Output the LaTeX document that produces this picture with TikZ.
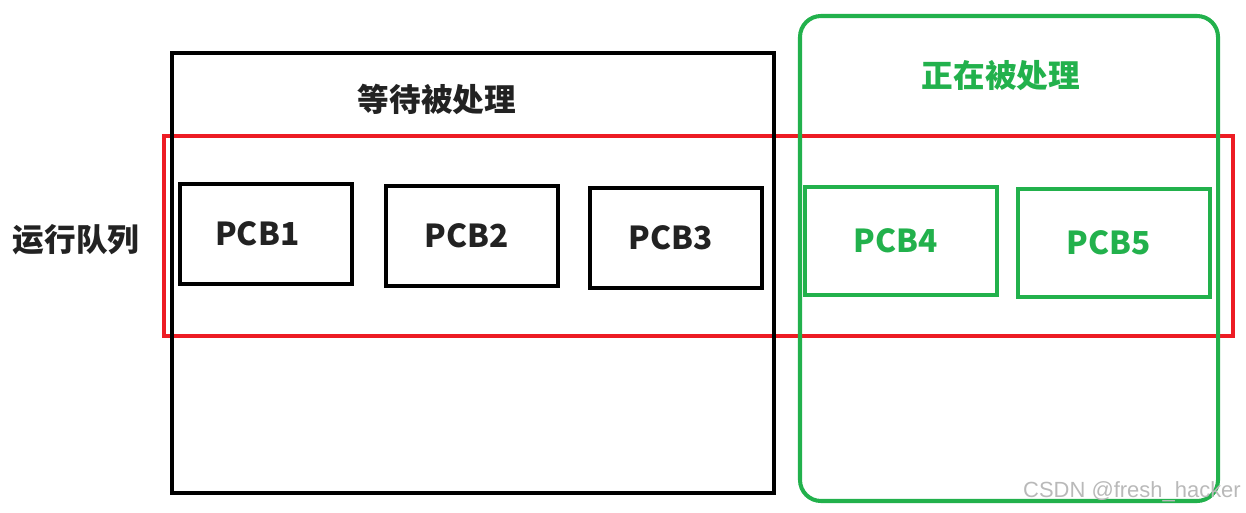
\documentclass[tikz,border=0pt]{standalone}
\usepackage{fontspec}
\newfontfamily\cjk{Noto Sans CJK SC}
\newfontfamily\wmfont{Liberation Sans}
\usetikzlibrary{positioning}
\definecolor{runred}{HTML}{ED1C24}
\definecolor{busygreen}{HTML}{22B14C}
\definecolor{inkgray}{HTML}{222222}

\begin{document}
\begin{tikzpicture}[x=0.02cm,y=-0.02cm,
  every node/.style={font=\cjk\bfseries\fontsize{18}{20}\selectfont,text=inkgray},
  frame/.style={line width=2.3pt},
  pcbbox/.style={draw,line width=2.3pt,minimum width=3.45cm,minimum height=2cm,inner sep=0pt},
  greenbox/.style={pcbbox,draw=busygreen,text=busygreen,minimum width=3.85cm,minimum height=2.15cm}]
\useasboundingbox (0,0) rectangle (1246,513);
% queue
\draw[frame,draw=runred] (164,136) rectangle (1233,336);
% waiting and running areas
\draw[frame] (172,53) rectangle (774,493);
\draw[frame,draw=busygreen,rounded corners=0.42cm] (800,16) rectangle (1218,501);
\node (waittitle) at (437,99) {等待被处理};
\node[text=busygreen] (runtitle) at (1001,76) {正在被处理};
\node (queuetitle) at (76,240) {运行队列};
% process blocks
\node[pcbbox] (pcb1) at (266,234) {PCB1\kern0.35cm};
\node[pcbbox] (pcb2) at (472,236) {PCB2\kern0.2cm};
\node[pcbbox] (pcb3) at (676,238) {PCB3\kern0.2cm};
\node[greenbox] (pcb4) at (901,241) {PCB4\kern0.2cm};
\node[greenbox] (pcb5) at (1114,243) {PCB5\kern0.2cm};
\node[font=\wmfont\fontsize{12.5}{14}\selectfont,text=gray!55] (mark) at (1132,492) {CSDN @fresh\_hacker};
\end{tikzpicture}
\end{document}
